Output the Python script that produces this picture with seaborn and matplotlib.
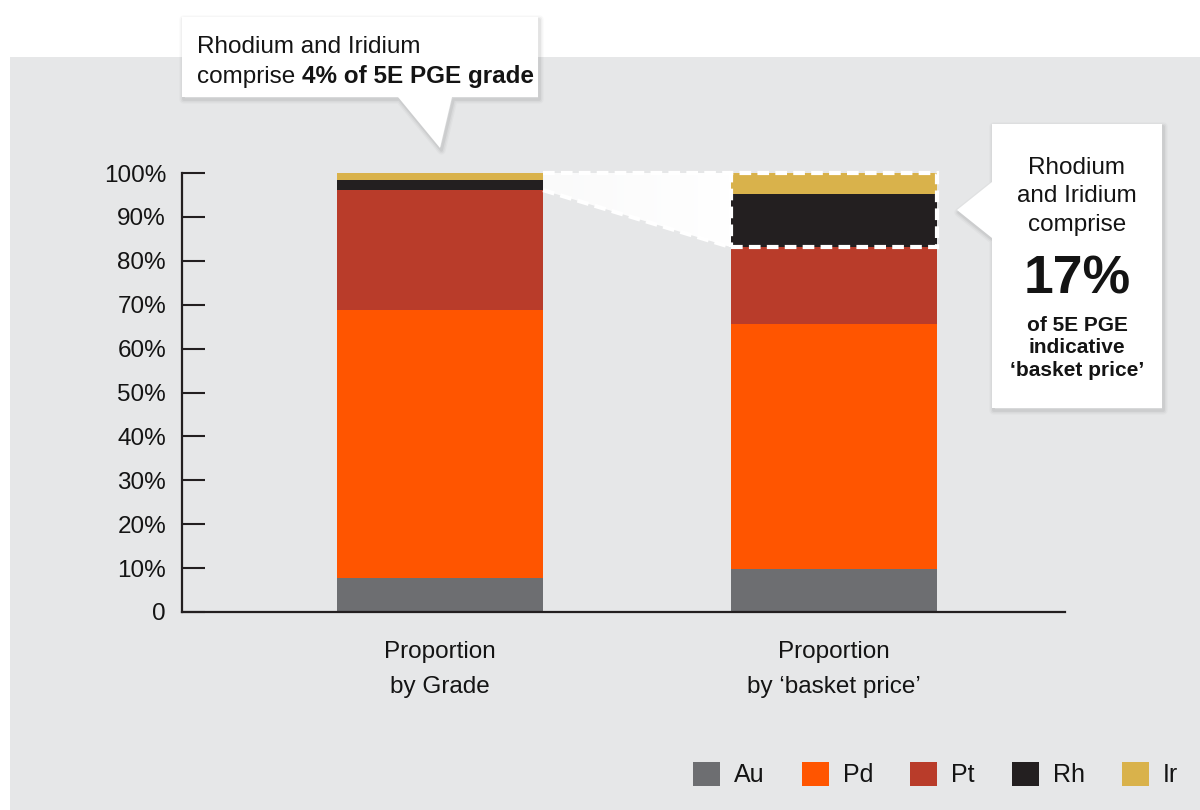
import numpy as np
import pandas as pd
import matplotlib
matplotlib.use("Agg")
import matplotlib.pyplot as plt
import seaborn as sns
from matplotlib.patches import Rectangle, Polygon, Patch

# ---------------- data ----------------
categories = ["Proportion\nby Grade", "Proportion\nby \u2018basket price\u2019"]
metals = ["Au", "Pd", "Pt", "Rh", "Ir"]
au_vals = [7.7, 9.8]
pd_vals = [61.1, 55.8]
pt_vals = [27.3, 17.5]
rh_vals = [2.3, 12.1]
ir_vals = [1.6, 4.8]
metal_colors = ["#6d6e71", "#ff5500", "#b93c2a", "#231f20", "#d9b24b"]
y_ticks = [0, 10, 20, 30, 40, 50, 60, 70, 80, 90, 100]
y_tick_labels = ["0", "10%", "20%", "30%", "40%", "50%", "60%", "70%", "80%", "90%", "100%"]
callout1_line1 = "Rhodium and Iridium"
callout1_line2a = "comprise"
callout1_line2b = "4% of 5E PGE grade"
callout2_top = ["Rhodium", "and Iridium", "comprise"]
callout2_big = "17%"
callout2_bottom = ["of 5E PGE", "indicative", "\u2018basket price\u2019"]

# ---------------- style ----------------
sns.set_theme(style="white")
plt.rcParams["font.family"] = ["Liberation Sans", "DejaVu Sans"]
TXT = "#141414"
AXC = "#231f20"
BG = "#e6e7e8"

W_PX, H_PX = 1200, 810
fig = plt.figure(figsize=(12, 8.1), dpi=100, facecolor="white")

def fx(x):
    return x / W_PX

def fy(y):
    return 1 - y / H_PX

# grey panel
fig.patches.append(Rectangle((fx(10), 0), 1 - fx(10), fy(57), transform=fig.transFigure,
                             facecolor=BG, edgecolor="none", zorder=-10))

ax = fig.add_axes([fx(182), fy(612), fx(1065) - fx(182), fy(173) - fy(612)])
ax.set_facecolor("none")

df = pd.DataFrame({"category": categories, "Au": au_vals, "Pd": pd_vals,
                   "Pt": pt_vals, "Rh": rh_vals, "Ir": ir_vals})
cum = df[metals].cumsum(axis=1)
color_map = dict(zip(metals, metal_colors))
BAR_W = 0.523

# stacked bars: draw cumulative totals from the top segment down
for m in reversed(metals):
    sns.barplot(x=df["category"], y=cum[m], color=color_map[m], width=BAR_W,
                saturation=1, linewidth=0, edgecolor="none", order=categories, ax=ax)

ax.set_xlabel("")
ax.set_ylabel("")
for s in ["top", "right"]:
    ax.spines[s].set_visible(False)
for s in ["left", "bottom"]:
    ax.spines[s].set_color(AXC)
    ax.spines[s].set_linewidth(1.6)

ax.set_yticks(y_ticks)
ax.set_yticklabels(y_tick_labels)
ax.tick_params(axis="y", direction="in", length=16.5, width=1.5, color=AXC,
               pad=11.5, labelsize=17.5, labelcolor=TXT, left=True)
ax.tick_params(axis="x", length=0, pad=21, labelsize=17.5, labelcolor=TXT)
for lbl in ax.get_xticklabels():
    lbl.set_linespacing(1.75)
    lbl.set_multialignment("center")

# ---------------- zoom funnel from bar 1 (Rh+Ir) to bar 2 (Rh+Ir) ----------------
x1r = 0 + BAR_W / 2
x2l = 1 - BAR_W / 2
lo1 = cum["Pt"].iloc[0]
lo2 = cum["Pt"].iloc[1]
top = cum["Ir"].iloc[1]
poly = Polygon([(x1r, top), (x2l, top), (x2l, lo2), (x1r, lo1)], closed=True,
               facecolor="none", edgecolor="none", transform=ax.transData)
ax.add_patch(poly)
grad = np.ones((1, 256, 4))
grad[..., 3] = np.linspace(0.8, 1.0, 256)
im = ax.imshow(grad, extent=[x1r, x2l, lo2, top], aspect="auto", zorder=3,
               interpolation="bicubic")
im.set_clip_path(poly)
ax.set_xlim(-0.655, 1.586)
ax.set_ylim(0, 100)

dash_kw = dict(color="white", lw=3.0, dashes=(2.8, 1.5), solid_capstyle="butt",
               clip_on=False, zorder=6)
ax.plot([x1r, x2l], [top, top], **dash_kw)
ax.plot([x1r, x2l], [lo1, lo2], **dash_kw)
ax.add_patch(Rectangle((x2l, lo2), BAR_W, top - lo2, facecolor="none",
                       edgecolor="white", lw=3.0, linestyle=(0, (2.8, 1.5)),
                       clip_on=False, zorder=6))

# ---------------- callouts ----------------
def callout(pts):
    for k, a in [(6, 0.025), (4, 0.035), (2, 0.05)]:
        sh = [(fx(x + 1.5), fy(y + 2.5)) for x, y in pts]
        fig.patches.append(Polygon(sh, closed=True, transform=fig.transFigure,
                                   facecolor="none", edgecolor="black", lw=k,
                                   alpha=a, joinstyle="round", zorder=4))
    fig.patches.append(Polygon([(fx(x), fy(y)) for x, y in pts], closed=True,
                               transform=fig.transFigure, facecolor="white",
                               edgecolor="none", zorder=5))

callout([(182, 17), (538, 17), (538, 97), (452, 97), (440, 148), (398, 97), (182, 97)])
callout([(992, 124), (1162, 124), (1162, 408), (992, 408), (992, 238), (957, 210), (992, 182)])

fig.text(fx(197), fy(53), callout1_line1, fontsize=17.5, color=TXT, va="baseline",
         ha="left", zorder=7)
t2a = fig.text(fx(197), fy(83), callout1_line2a, fontsize=17.5, color=TXT,
               va="baseline", ha="left", zorder=7)
fig.canvas.draw()
bb = t2a.get_window_extent(fig.canvas.get_renderer())
space_px = 0.278 * 17.5 * 100 / 72
fig.text((bb.x1 + space_px) / W_PX, fy(83), callout1_line2b, fontsize=17.5,
         fontweight="bold", color=TXT, va="baseline", ha="left", zorder=7)

cx = 1077
for s, yb in zip(callout2_top, [174, 202.5, 231]):
    fig.text(fx(cx), fy(yb), s, fontsize=17.5, color=TXT, ha="center",
             va="baseline", zorder=7)
fig.text(fx(cx), fy(294), callout2_big, fontsize=38.5, fontweight="bold",
         color=TXT, ha="center", va="baseline", zorder=7)
for s, yb in zip(callout2_bottom, [330.5, 353, 375.5]):
    fig.text(fx(cx), fy(yb), s, fontsize=15, fontweight="bold", color=TXT,
             ha="center", va="baseline", zorder=7)

# ---------------- legend ----------------
handles = [Patch(facecolor=c, edgecolor="none") for c in metal_colors]
fig.legend(handles, metals, loc="center right", bbox_to_anchor=(fx(1178), fy(774.5)),
           ncol=5, frameon=False, fontsize=18, handlelength=1.08, handleheight=1.08,
           handletextpad=0.56, columnspacing=1.48, borderpad=0, borderaxespad=0,
           labelcolor=TXT)

fig.savefig("out.png", dpi=100, facecolor="white")
